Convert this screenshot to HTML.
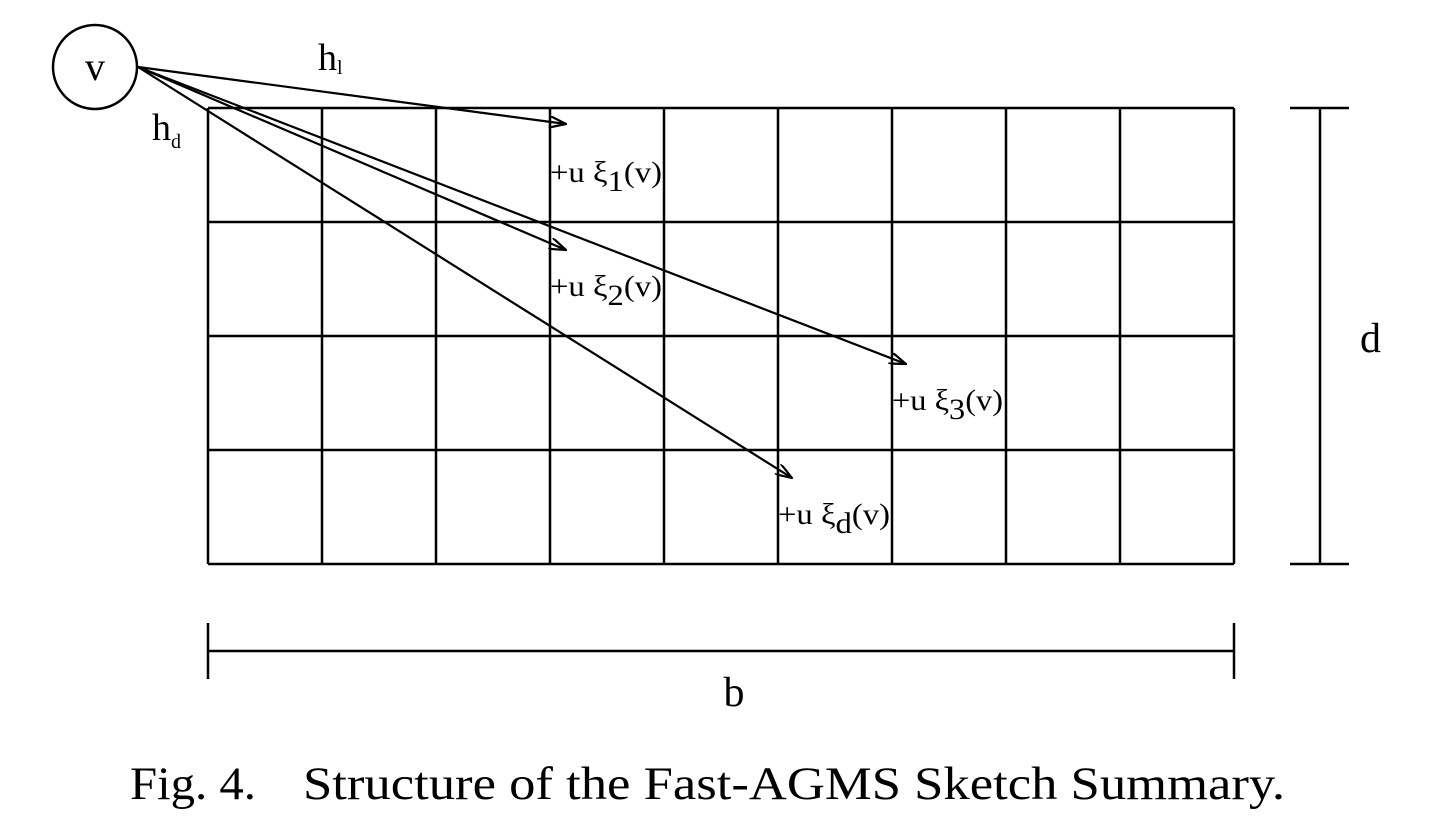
<!DOCTYPE html>
<html><head><meta charset="utf-8"><style>
html,body{margin:0;padding:0;background:#fff;}
svg{display:block;font-family:"Liberation Serif",serif;}
</style></head><body>
<svg width="1442" height="820" viewBox="0 0 1442 820">
<defs><marker id="ah" markerWidth="18" markerHeight="12" refX="17" refY="6" orient="auto" markerUnits="userSpaceOnUse"><path d="M0,0 L17,6 L0,12" fill="none" stroke="#000" stroke-width="2.2"/></marker></defs>
<g id="grid" stroke="#000" stroke-width="2.5" fill="none"></g>
<circle cx="95" cy="67" r="42" fill="none" stroke="#000" stroke-width="2.5"/>
<text x="95" y="80" font-size="40" text-anchor="middle">v</text>
<g id="arrows" stroke="#000" stroke-width="2.2" fill="none"></g>
<text x="318" y="70" font-size="38">h<tspan font-size="20" dy="4">l</tspan></text>
<text x="152" y="140" font-size="38">h<tspan font-size="20" dy="8">d</tspan></text>
<g font-size="30">
<text x="550" y="182" textLength="112" lengthAdjust="spacingAndGlyphs">+u ξ<tspan dy="9">1</tspan><tspan dy="-9">(v)</tspan></text>
<text x="550" y="296" textLength="112" lengthAdjust="spacingAndGlyphs">+u ξ<tspan dy="9">2</tspan><tspan dy="-9">(v)</tspan></text>
<text x="892" y="410" textLength="111" lengthAdjust="spacingAndGlyphs">+u ξ<tspan dy="9">3</tspan><tspan dy="-9">(v)</tspan></text>
<text x="778" y="524" textLength="112" lengthAdjust="spacingAndGlyphs">+u ξ<tspan dy="9">d</tspan><tspan dy="-9">(v)</tspan></text>
</g>
<g stroke="#000" stroke-width="2.5">
<line x1="1320" y1="108" x2="1320" y2="564"/><line x1="1290" y1="108" x2="1349" y2="108"/><line x1="1290" y1="564" x2="1349" y2="564"/>
</g>
<text x="1360" y="352" font-size="42">d</text>
<g stroke="#000" stroke-width="2.5">
<line x1="208" y1="651" x2="1234" y2="651"/><line x1="208" y1="623" x2="208" y2="679"/><line x1="1234" y1="623" x2="1234" y2="679"/>
</g>
<text x="734" y="706" font-size="42" text-anchor="middle">b</text>
<text x="130" y="799" font-size="47" textLength="126" lengthAdjust="spacingAndGlyphs">Fig. 4.</text>
<text x="303" y="799" font-size="47" textLength="982" lengthAdjust="spacingAndGlyphs">Structure of the Fast-AGMS Sketch Summary.</text>
</svg>
<script>
const cols=[208,322,436,550,664,778,892,1006,1120,1234];
const rows=[108,222,336,450,564];
const g=document.getElementById('grid');
const ns='http://www.w3.org/2000/svg';
cols.forEach(x=>{const l=document.createElementNS(ns,'line');l.setAttribute('x1',x);l.setAttribute('x2',x);l.setAttribute('y1',108);l.setAttribute('y2',564);


g.appendChild(l);});
rows.forEach(y=>{const l=document.createElementNS(ns,'line');l.setAttribute('y1',y);l.setAttribute('y2',y);l.setAttribute('x1',208);l.setAttribute('x2',1234);


g.appendChild(l);});
const ends=[[566,124],[566,250],[906,364],[792,478]];
const a=document.getElementById('arrows');
ends.forEach(e=>{const l=document.createElementNS(ns,'line');l.setAttribute('x1',138);l.setAttribute('y1',67);l.setAttribute('x2',e[0]);l.setAttribute('y2',e[1]);l.setAttribute('marker-end','url(#ah)');


a.appendChild(l);});
</script>
</body></html>
